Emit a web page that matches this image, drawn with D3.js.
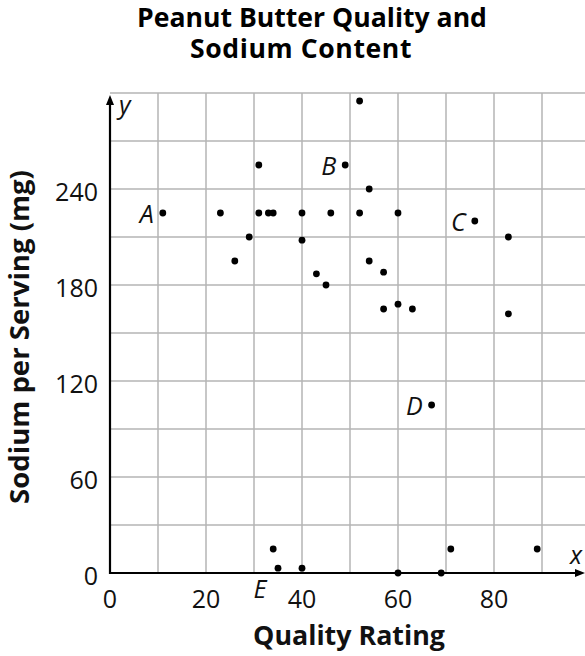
<!DOCTYPE html>
<html lang="en">
<head>
    <style>
        body { margin: 0; background: white; }
        svg { display: block; font-family: "Open Sans", sans-serif; }
        .grid line { stroke: #b4b4b4; stroke-width: 1.5; }
        .tick-label { font-size: 25px; fill: #111; }
        .axis-title { font-size: 24px; font-weight: bold; fill: #111; }
        .title { font-size: 24px; font-weight: bold; fill: #000; }
        .pt-label { font-size: 25px; font-style: italic; fill: #111; }
    </style>
    <script src="https://d3js.org/d3.v7.min.js"></script>
</head>
<body>
    <svg id="chart"></svg>
    <script>
        // Quality rating (x) and sodium per serving in mg (y) for each brand
        const quality = [11, 23, 26, 29, 31, 31, 33, 34, 34, 35, 40, 40, 40, 43, 45, 46, 49,
                         52, 52, 54, 54, 57, 57, 60, 60, 63, 60, 67, 69, 71, 76, 83, 83, 89];
        const sodium  = [225, 225, 195, 210, 255, 225, 225, 225, 15, 3, 225, 208, 3, 187, 180, 225, 255,
                         295, 225, 240, 195, 188, 165, 225, 168, 165, 0, 105, 0, 15, 220, 210, 162, 15];
        // lettered points: index into the arrays above
        const labelLetters = ["A", "B", "C", "D", "E"];
        const labelIndex   = [0, 16, 30, 27, 9];
        const xTicks = [0, 20, 40, 60, 80];
        const yTicks = [0, 60, 120, 180, 240];
        const titleLines = ["Peanut Butter Quality and", "Sodium Content"];

        const W = 585, H = 656;
        const svg = d3.select("#chart").attr("width", W).attr("height", H);

        const x = d3.scaleLinear().domain([0, 99]).range([110, 585.2]);
        const y = d3.scaleLinear().domain([0, 300]).range([573, 93]);

        // font size that makes a text span the given width
        function fitSize(sel, width) {
            const fs = parseFloat(getComputedStyle(sel.node()).fontSize);
            return fs * width / sel.node().getComputedTextLength();
        }

        // grid
        const grid = svg.append("g").attr("class", "grid");
        grid.selectAll(".v").data(d3.range(10, 100, 10)).join("line")
            .attr("x1", d => x(d)).attr("x2", d => x(d))
            .attr("y1", y(0)).attr("y2", y(300));
        grid.selectAll(".h").data(d3.range(30, 301, 30)).join("line")
            .attr("x1", x(0)).attr("x2", x(99))
            .attr("y1", d => y(d)).attr("y2", d => y(d));

        // axes with arrow heads
        svg.append("line").attr("x1", x(0)).attr("x2", 578).attr("y1", y(0)).attr("y2", y(0))
            .attr("stroke", "#000").attr("stroke-width", 2.2);
        svg.append("path").attr("d", `M585,${y(0)} l-10,-4 l0,8 z`).attr("fill", "#000");
        svg.append("line").attr("x1", x(0)).attr("x2", x(0)).attr("y1", y(0) + 1).attr("y2", 102)
            .attr("stroke", "#000").attr("stroke-width", 2.2);
        svg.append("path").attr("d", `M${x(0)},95 l-4,10 l8,0 z`).attr("fill", "#000");

        // tick labels
        svg.selectAll(".xt").data(xTicks).join("text").attr("class", "tick-label")
            .attr("x", d => x(d)).attr("y", y(0) + 35).attr("text-anchor", "middle").text(d => d);
        svg.selectAll(".yt").data(yTicks).join("text").attr("class", "tick-label")
            .attr("x", 98).attr("y", d => y(d) + 12).attr("text-anchor", "end").text(d => d);

        // axis variable letters
        svg.append("text").attr("class", "pt-label").attr("x", 119).attr("y", 114).text("y");
        svg.append("text").attr("class", "pt-label").attr("x", 570).attr("y", 564).text("x");

        // two-line title, same size on both lines
        const t1 = svg.append("text").attr("class", "title").attr("x", 312).attr("y", 27)
            .attr("text-anchor", "middle").text(titleLines[0]);
        const t2 = svg.append("text").attr("class", "title").attr("x", 301).attr("y", 58)
            .attr("text-anchor", "middle").text(titleLines[1]);
        const titleSize = fitSize(t1, 350);
        t1.style("font-size", titleSize + "px");
        t2.style("font-size", titleSize + "px").style("letter-spacing", "0.6px");

        const xt = svg.append("text").attr("class", "axis-title").attr("x", 349).attr("y", 645)
            .attr("text-anchor", "middle").text("Quality Rating");
        xt.style("font-size", fitSize(xt, 192) + "px");
        const yt = svg.append("text").attr("class", "axis-title")
            .attr("transform", "translate(29,337) rotate(-90)")
            .attr("text-anchor", "middle").text("Sodium per Serving (mg)");
        yt.style("font-size", fitSize(yt, 334) + "px");

        // points
        svg.selectAll("circle").data(quality).join("circle")
            .attr("cx", (d, i) => x(d)).attr("cy", (d, i) => y(sodium[i]))
            .attr("r", 3.4).attr("fill", "#000");

        // point letters
        labelLetters.forEach((letter, k) => {
            const i = labelIndex[k];
            const t = svg.append("text").attr("class", "pt-label").text(letter);
            if (letter === "E") {
                t.attr("x", x(quality[i]) - 18).attr("y", y(sodium[i]) + 30).attr("text-anchor", "middle");
            } else {
                t.attr("x", x(quality[i]) - 9).attr("y", y(sodium[i]) + 10).attr("text-anchor", "end");
            }
        });
    </script>
</body>
</html>
